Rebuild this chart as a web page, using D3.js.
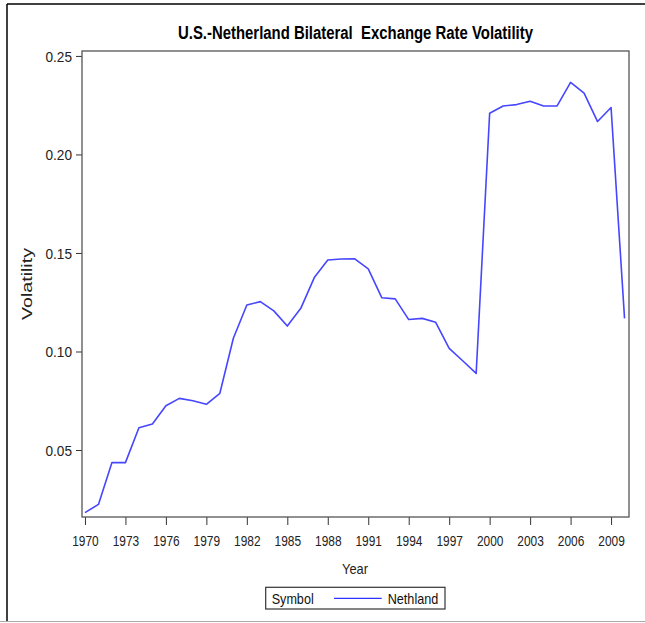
<!DOCTYPE html>
<html><head><meta charset="utf-8">
<script src="https://cdn.jsdelivr.net/npm/d3@7"></script>
<style>body{margin:0;background:#fff}</style>
</head><body><svg id="c" width="645" height="623"></svg>
<script>
const years = [1970,1971,1972,1973,1974,1975,1976,1977,1978,1979,1980,1981,1982,1983,1984,1985,1986,1987,1988,1989,1990,1991,1992,1993,1994,1995,1996,1997,1998,1999,2000,2001,2002,2003,2004,2005,2006,2007,2008,2009,2010];
const volatility = [0.0182,0.0224,0.0436,0.0436,0.0613,0.0632,0.0725,0.0762,0.0750,0.0732,0.0788,0.1067,0.1236,0.1253,0.1206,0.1129,0.1219,0.1375,0.1464,0.1469,0.1470,0.1419,0.1273,0.1267,0.1162,0.1168,0.1148,0.1016,0.0953,0.0889,0.2209,0.2246,0.2253,0.2270,0.2246,0.2246,0.2366,0.2311,0.2167,0.2238,0.1168];
const xTicks = [1970,1973,1976,1979,1982,1985,1988,1991,1994,1997,2000,2003,2006,2009];
const yTicks = [0.05,0.10,0.15,0.20,0.25];
const seriesName = "Nethland";
const titleText = "U.S.-Netherland Bilateral\u00a0 Exchange Rate Volatility";

const FONT = "'Liberation Sans Narrow','Liberation Sans',Arial,sans-serif";
const svg = d3.select("#c");
const L = 82, R = 629, T = 51, B = 517;
const x = d3.scaleLinear().domain([1969.78, 2010.33]).range([L, R]);
const y = d3.scaleLinear().domain([0.016, 0.2525]).range([B, T]);

function fit(sel, w) {
  sel.attr("textLength", w).attr("lengthAdjust", "spacingAndGlyphs");
}

svg.append("rect").attr("width", 645).attr("height", 623).attr("fill", "#fff");
// outer frame
svg.append("line").attr("x1", 7).attr("x2", 645).attr("y1", 4).attr("y2", 4).attr("stroke", "#000").attr("stroke-width", 1.5);
svg.append("line").attr("x1", 7).attr("x2", 7).attr("y1", 4).attr("y2", 621).attr("stroke", "#000").attr("stroke-width", 1.5);
svg.append("line").attr("x1", 0).attr("x2", 645).attr("y1", 621.5).attr("y2", 621.5).attr("stroke", "#aaa").attr("stroke-width", 1.2);

// title
svg.append("text").attr("x", 355.5).attr("y", 38.5).attr("text-anchor", "middle")
  .attr("font-family", FONT).attr("font-weight", "bold").attr("font-size", 18).attr("fill", "#000")
  .text(titleText).call(fit, 355);

// axes
const yAxis = svg.append("g").attr("transform", `translate(${L},0)`)
  .call(d3.axisLeft(y).tickValues(yTicks).tickFormat(d3.format(".2f")).tickSize(6).tickPadding(4));
yAxis.select(".domain").remove();
yAxis.selectAll(".tick line").attr("stroke", "#333");
yAxis.selectAll(".tick text").attr("font-family", FONT).attr("font-size", 15).attr("fill", "#222")
  .attr("dy", "0.36em").call(fit, 26.5);

const xAxis = svg.append("g").attr("transform", `translate(0,${B})`)
  .call(d3.axisBottom(x).tickValues(xTicks).tickFormat(d3.format("d")).tickSize(8).tickPadding(10));
xAxis.select(".domain").remove();
xAxis.selectAll(".tick line").attr("stroke", "#333");
xAxis.selectAll(".tick text").attr("font-family", FONT).attr("font-size", 15).attr("fill", "#222")
  .call(fit, 26.5);

// plot frame
svg.append("rect").attr("x", L).attr("y", T).attr("width", R - L).attr("height", B - T)
  .attr("fill", "none").attr("stroke", "#555").attr("stroke-width", 1.3);

// axis labels
svg.append("text").attr("x", 355).attr("y", 574).attr("text-anchor", "middle")
  .attr("font-family", FONT).attr("font-size", 15).attr("fill", "#222").text("Year").call(fit, 26);
svg.append("text").attr("transform", `translate(32,${(T + B) / 2}) rotate(-90)`).attr("text-anchor", "middle")
  .attr("font-family", FONT).attr("font-size", 15).attr("fill", "#222").text("Volatility").call(fit, 72);

// line
const data = years.map((yr, i) => ({yr, v: volatility[i]}));
svg.append("path").datum(data)
  .attr("d", d3.line().x(d => x(d.yr)).y(d => y(d.v)))
  .attr("fill", "none").attr("stroke", "#4646ff").attr("stroke-width", 1.6).attr("stroke-linejoin", "round");

// legend
const lg = svg.append("g");
lg.append("rect").attr("x", 265.7).attr("y", 587.3).attr("width", 179.3).attr("height", 21.7)
  .attr("fill", "#fff").attr("stroke", "#333").attr("stroke-width", 1.2);
lg.append("text").attr("x", 271.7).attr("y", 604).attr("font-family", FONT).attr("font-size", 15)
  .attr("fill", "#111").text("Symbol").call(fit, 42);
lg.append("line").attr("x1", 334).attr("x2", 381.7).attr("y1", 598.3).attr("y2", 598.3)
  .attr("stroke", "#3030ff").attr("stroke-width", 1.3);
lg.append("text").attr("x", 438.3).attr("y", 604).attr("text-anchor", "end").attr("font-family", FONT).attr("font-size", 15)
  .attr("fill", "#111").text(seriesName).call(fit, 50.6);
</script>
</body></html>
